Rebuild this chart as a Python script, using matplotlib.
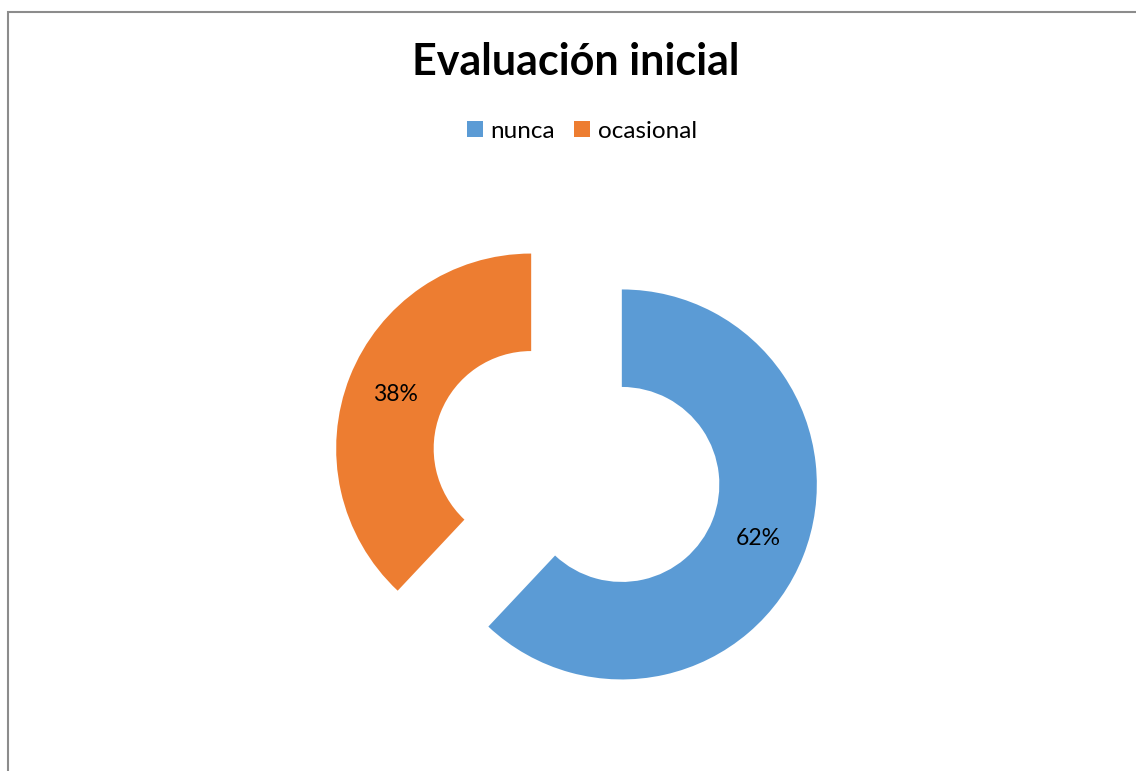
import matplotlib.pyplot as plt
from matplotlib.patches import Rectangle, Patch

labels = ["nunca", "ocasional"]
values = [62, 38]
colors = ["#5B9BD5", "#ED7D31"]

W, H = 1136, 771
fig = plt.figure(figsize=(W / 100, H / 100), dpi=100)
plt.rcParams['font.family'] = ['Lato', 'DejaVu Sans']

ax = fig.add_axes([0, 0, 1, 1])
radius = 195
# explode is in data units here, 25% of the radius
ax.pie(values, colors=colors, startangle=90, counterclock=False,
       explode=[0.25 * radius, 0.25 * radius], radius=radius,
       center=(576.5, H - 466.5),
       autopct='%1.0f%%', pctdistance=0.75,
       wedgeprops=dict(width=radius * 0.5, linewidth=0),
       textprops=dict(fontsize=16.5, color="black"))
ax.set_xlim(0, W)
ax.set_ylim(0, H)
ax.set_aspect('equal')
ax.axis('off')

fig.text(576 / W, 1 - 62 / H, "Evaluación inicial", ha='center', va='center',
         fontsize=31, fontweight='bold')

handles = [Patch(facecolor=c, edgecolor='none') for c in colors]
fig.legend(handles, labels, loc='center', bbox_to_anchor=(582 / W, 1 - 131 / H),
           ncol=2, frameon=False, fontsize=17.5, handlelength=0.65, handleheight=0.65,
           handletextpad=0.3, columnspacing=0.8)

fig.patches.append(Rectangle((8 / W, -0.05), 1.2, 1.05 - 12 / H, transform=fig.transFigure,
                             fill=False, edgecolor="#8c8c8c", linewidth=1.5))

fig.savefig("out.png", dpi=100)
